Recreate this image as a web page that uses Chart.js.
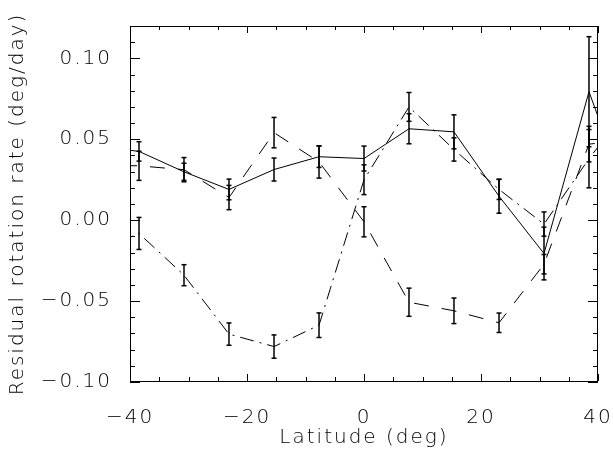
<!DOCTYPE html>
<html>
<head>
<meta charset="utf-8">
<script src="https://cdn.jsdelivr.net/npm/chart.js@4/dist/chart.umd.min.js"></script>
<style>
  html, body { margin: 0; padding: 0; background: #ffffff; }
  #wrap { width: 613px; height: 458px; }
</style>
</head>
<body>
<div id="wrap"><canvas id="chart" width="613" height="458"></canvas></div>
<script>
// Latitude bins (deg); the outermost bins lie beyond the plotted range
const latitudes = [-46.15, -38.46, -30.77, -23.08, -15.38, -7.69, 0.00, 7.69, 15.38, 23.08, 30.77, 38.46, 46.15];

// Residual rotation rate (deg/day) and 1-sigma errors for the three profiles
const rateSolid   = [0.0460, 0.0425, 0.0299, 0.0190, 0.0313, 0.0392, 0.0381, 0.0565, 0.0546, 0.0148, -0.0206, 0.0794, 0.0030];
const errSolid    = [null,   0.0060, 0.0053, 0.0064, 0.0071, 0.0066, 0.0077, 0.0093, 0.0105, 0.0105, 0.0163, 0.0340, null];

const rateDashed  = [0.0340, 0.0336, 0.0312, 0.0140, 0.0541, 0.0360, -0.0010, -0.0507, -0.0560, -0.0634, -0.0272, 0.0470, 0.0500];
const errDashed   = [null,   0.0090, 0.0075, 0.0075, 0.0094, 0.0100, 0.0093, 0.0087, 0.0079, 0.0060, 0.0060, 0.0110, null];

const rateDashDot = [-0.0200, -0.0082, -0.0340, -0.0704, -0.0781, -0.0649, 0.0250, 0.0700, 0.0437, 0.0190, -0.0024, 0.0380, 0.0740];
const errDashDot  = [null,    0.0099, 0.0065, 0.0069, 0.0072, 0.0076, 0.0092, 0.0089, 0.0072, 0.0062, 0.0075, 0.0180, null];

// Axis ranges and labelled ticks
const xRange = [-40, 40];
const yRange = [-0.10, 0.12];
const xMajorTicks = [-40, -20, 0, 20, 40];
const yMajorTicks = [-0.10, -0.05, 0.00, 0.05, 0.10];

const FONT = "'DejaVu Sans', sans-serif";
const TEXT_WEIGHT = 200;
const INK = '#000000';
const MINUS = '\u2212';

function fmtX(v) {
  return v < 0 ? MINUS + Math.abs(v) : String(v);
}
function fmtY(v) {
  return (v < 0 ? MINUS : '') + Math.abs(v).toFixed(2);
}
function isMajor(v, list) {
  return list.some(m => Math.abs(m - v) < 1e-6);
}

function profile(rates, dash) {
  return {
    data: latitudes.map((x, i) => ({ x, y: rates[i] })),
    borderColor: INK,
    borderWidth: 1,
    borderDash: dash,
    pointRadius: 0,
    fill: false,
    tension: 0
  };
}

function errorBars(rates, errs) {
  const sets = [];
  latitudes.forEach((x, i) => {
    if (errs[i] == null) return;
    sets.push({
      data: [{ x, y: rates[i] - errs[i] }, { x, y: rates[i] + errs[i] }],
      borderColor: INK,
      borderWidth: 1.5,
      pointStyle: 'line',
      pointRadius: 2.5,
      pointBorderWidth: 1.5,
      pointBorderColor: INK,
      fill: false
    });
  });
  return sets;
}

// Wider letter spacing for all axis text
const spacingPlugin = {
  id: 'spacing',
  beforeInit(chart) { chart.ctx.letterSpacing = '2px'; },
  beforeDraw(chart) { chart.ctx.letterSpacing = '2px'; }
};

// Box frame with inward-pointing major/minor ticks on all four sides
const framePlugin = {
  id: 'frame',
  afterDraw(chart) {
    const { ctx, chartArea: a, scales } = chart;
    const xs = scales.x, ys = scales.y;
    const L = Math.round(a.left), R = Math.round(a.right) - 1;
    const T = Math.round(a.top), B = Math.round(a.bottom) - 1;
    ctx.save();
    ctx.fillStyle = INK;
    // frame sides
    ctx.fillRect(L, T, R - L + 1, 1);
    ctx.fillRect(L, B, R - L + 1, 1);
    ctx.fillRect(L, T, 1, B - T + 1);
    ctx.fillRect(R, T, 1, B - T + 1);
    // x ticks (bottom and top)
    xs.ticks.forEach(t => {
      const px = Math.round(xs.getPixelForValue(t.value));
      const len = isMajor(t.value, xMajorTicks) ? 7 : 4;
      ctx.fillRect(px, B - len, 1, len);
      ctx.fillRect(px, T, 1, len);
    });
    // y ticks (left and right)
    ys.ticks.forEach(t => {
      const py = Math.round(ys.getPixelForValue(t.value));
      const len = isMajor(t.value, yMajorTicks) ? 10 : 5;
      ctx.fillRect(L, py, len, 1);
      ctx.fillRect(R - len + 1, py, len, 1);
    });
    ctx.restore();
  }
};

const datasets = [
  profile(rateSolid, []),
  profile(rateDashed, [15, 13]),
  profile(rateDashDot, [14, 6, 2, 6]),
  ...errorBars(rateSolid, errSolid),
  ...errorBars(rateDashed, errDashed),
  ...errorBars(rateDashDot, errDashDot)
];

const textFont = { family: FONT, size: 20, weight: TEXT_WEIGHT };

new Chart(document.getElementById('chart'), {
  type: 'line',
  data: { datasets },
  plugins: [spacingPlugin, framePlugin],
  options: {
    responsive: false,
    animation: false,
    devicePixelRatio: 1,
    layout: { padding: { top: 26, right: 15, left: 0, bottom: 0 } },
    plugins: {
      legend: { display: false },
      tooltip: { enabled: false }
    },
    scales: {
      x: {
        type: 'linear',
        min: xRange[0],
        max: xRange[1],
        grid: { display: false },
        border: { display: false },
        ticks: {
          stepSize: 5,
          autoSkip: false,
          maxRotation: 0,
          padding: 16,
          color: INK,
          font: textFont,
          callback: v => isMajor(v, xMajorTicks) ? fmtX(v) : ''
        },
        title: {
          display: true,
          text: 'Latitude (deg)',
          color: INK,
          font: textFont,
          padding: { top: 0, bottom: 8 }
        },
        afterFit(scale) {
          scale.height = 76;
          scale.paddingLeft = 0;
          scale.paddingRight = 0;
        }
      },
      y: {
        type: 'linear',
        min: yRange[0],
        max: yRange[1],
        grid: { display: false },
        border: { display: false },
        ticks: {
          stepSize: 0.01,
          autoSkip: false,
          padding: 10,
          color: INK,
          font: textFont,
          callback: v => isMajor(v, yMajorTicks) ? fmtY(v) : ''
        },
        title: {
          display: true,
          text: 'Residual rotation rate (deg/day)',
          color: INK,
          font: textFont,
          padding: { top: 6, bottom: 0 }
        },
        afterFit(scale) {
          scale.width = 130;
          scale.paddingTop = 0;
          scale.paddingBottom = 0;
        }
      }
    }
  }
});
</script>
</body>
</html>
